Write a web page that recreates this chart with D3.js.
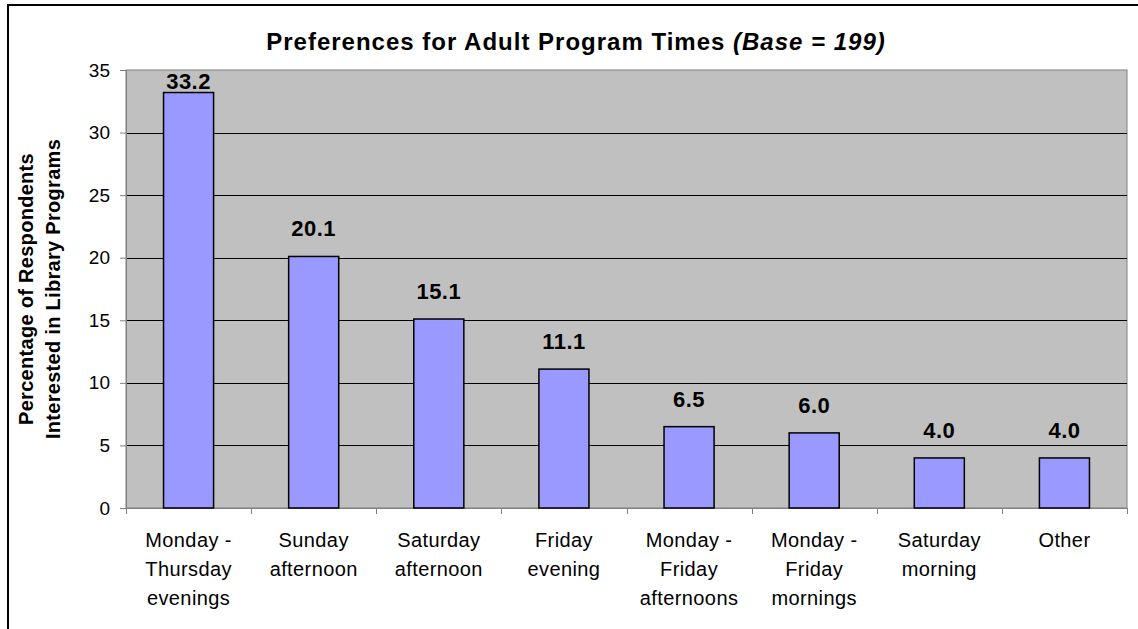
<!DOCTYPE html>
<html>
<head>
<meta charset="utf-8">
<script src="https://cdn.jsdelivr.net/npm/d3@7"></script>
<style>
  body { margin: 0; background: #fff; }
  svg { display: block; font-family: Arial, "Liberation Sans", sans-serif; }
</style>
</head>
<body>
<div id="chart"></div>
<script>
// data
let categories = [
    ["Monday -", "Thursday", "evenings"],
    ["Sunday", "afternoon"],
    ["Saturday", "afternoon"],
    ["Friday", "evening"],
    ["Monday -", "Friday", "afternoons"],
    ["Monday -", "Friday", "mornings"],
    ["Saturday", "morning"],
    ["Other"]
];
let values = [33.2, 20.1, 15.1, 11.1, 6.5, 6.0, 4.0, 4.0];
let yTicks = [0, 5, 10, 15, 20, 25, 30, 35];

let width = 1138, height = 629;
let plot = { left: 126, top: 70, right: 1127, bottom: 508 };

let svg = d3.select("#chart")
    .append("svg")
    .attr("width", width)
    .attr("height", height);

// outer chart border (only left and top are inside the picture)
svg.append("rect")
    .attr("x", 8)
    .attr("y", 5)
    .attr("width", 1200)
    .attr("height", 700)
    .attr("fill", "none")
    .attr("stroke", "#000")
    .attr("stroke-width", 2);

let keys = categories.map(function(d, i) { return i; });

let x = d3.scaleBand()
    .domain(keys)
    .range([plot.left, plot.right])
    .padding(0);

let y = d3.scaleLinear()
    .domain([0, 35])
    .range([plot.bottom, plot.top]);

// plot background
svg.append("rect")
    .attr("x", plot.left)
    .attr("y", plot.top)
    .attr("width", plot.right - plot.left)
    .attr("height", plot.bottom - plot.top)
    .attr("fill", "#c0c0c0")
    .attr("stroke", "#808080")
    .attr("stroke-width", 1);

// gridlines
svg.append("g")
    .selectAll("line")
    .data(yTicks.filter(function(d) { return d > 0 && d < 35; }))
    .enter()
    .append("line")
    .attr("x1", plot.left)
    .attr("x2", plot.right)
    .attr("y1", function(d) { return Math.round(y(d)) + 0.5; })
    .attr("y2", function(d) { return Math.round(y(d)) + 0.5; })
    .attr("stroke", "#000")
    .attr("stroke-width", 1);

// y axis
let yAxis = svg.append("g")
    .attr("transform", `translate(${plot.left}, 0)`)
    .call(d3.axisLeft(y).tickValues(yTicks).tickSize(6).tickPadding(10));
yAxis.select(".domain").attr("stroke", "#808080");
yAxis.selectAll(".tick line").attr("stroke", "#808080");
yAxis.selectAll("text")
    .attr("fill", "#000")
    .style("font-size", "19px")
    .style("font-family", "Arial, 'Liberation Sans', sans-serif");

// x axis: ticks on category boundaries
let xAxisG = svg.append("g")
    .attr("transform", `translate(0, ${plot.bottom})`);
xAxisG.append("line")
    .attr("x1", plot.left)
    .attr("x2", plot.right)
    .attr("y1", 0.5)
    .attr("y2", 0.5)
    .attr("stroke", "#808080");
xAxisG.selectAll("line.tick")
    .data(keys.concat([keys.length]))
    .enter()
    .append("line")
    .attr("class", "tick")
    .attr("x1", function(d) { return Math.round(plot.left + d * x.step()) + 0.5; })
    .attr("x2", function(d) { return Math.round(plot.left + d * x.step()) + 0.5; })
    .attr("y1", 0)
    .attr("y2", 6)
    .attr("stroke", "#808080");

let labels = xAxisG.selectAll("text")
    .data(categories)
    .enter()
    .append("text")
    .attr("text-anchor", "middle")
    .style("font-size", "20px")
    .style("letter-spacing", "0.4px")
    .attr("fill", "#000");
labels.each(function(d, i) {
    let t = d3.select(this);
    d.forEach(function(line, j) {
        t.append("tspan")
            .attr("x", x(i) + x.bandwidth() / 2)
            .attr("y", 39 + j * 29)
            .text(line);
    });
});

// bars
let barW = x.bandwidth() * 0.4;
svg.append("g")
    .selectAll("rect")
    .data(values)
    .enter()
    .append("rect")
    .attr("x", function(d, i) { return x(i) + (x.bandwidth() - barW) / 2; })
    .attr("y", function(d) { return y(d); })
    .attr("width", barW)
    .attr("height", function(d) { return y(0) - y(d); })
    .attr("fill", "#9999ff")
    .attr("stroke", "#000")
    .attr("stroke-width", 1.5);

// value labels
svg.append("g")
    .selectAll("text")
    .data(values)
    .enter()
    .append("text")
    .attr("x", function(d, i) { return x(i) + x.bandwidth() / 2; })
    .attr("y", function(d) { return Math.max(y(d) - 20, plot.top + 19); })
    .attr("text-anchor", "middle")
    .style("font-size", "22px")
    .style("font-weight", "bold")
    .style("letter-spacing", "0.5px")
    .text(function(d) { return d.toFixed(1); });

// title
let title = svg.append("text")
    .attr("x", 576)
    .attr("y", 50)
    .attr("text-anchor", "middle")
    .style("font-size", "24px")
    .style("font-weight", "bold")
    .style("letter-spacing", "1px");
title.append("tspan").text("Preferences for Adult Program Times ");
title.append("tspan").style("font-style", "italic").text("(Base = 199)");

// y axis title
let yTitle = svg.append("text")
    .attr("transform", `translate(0, ${(plot.top + plot.bottom) / 2}) rotate(-90)`)
    .attr("text-anchor", "middle")
    .style("font-size", "20px")
    .style("font-weight", "bold")
    .style("letter-spacing", "0.3px");
yTitle.append("tspan").attr("x", 0).attr("y", 33).text("Percentage of Respondents");
yTitle.append("tspan").attr("x", 0).attr("y", 60).text("Interested in Library Programs");
</script>
</body>
</html>
